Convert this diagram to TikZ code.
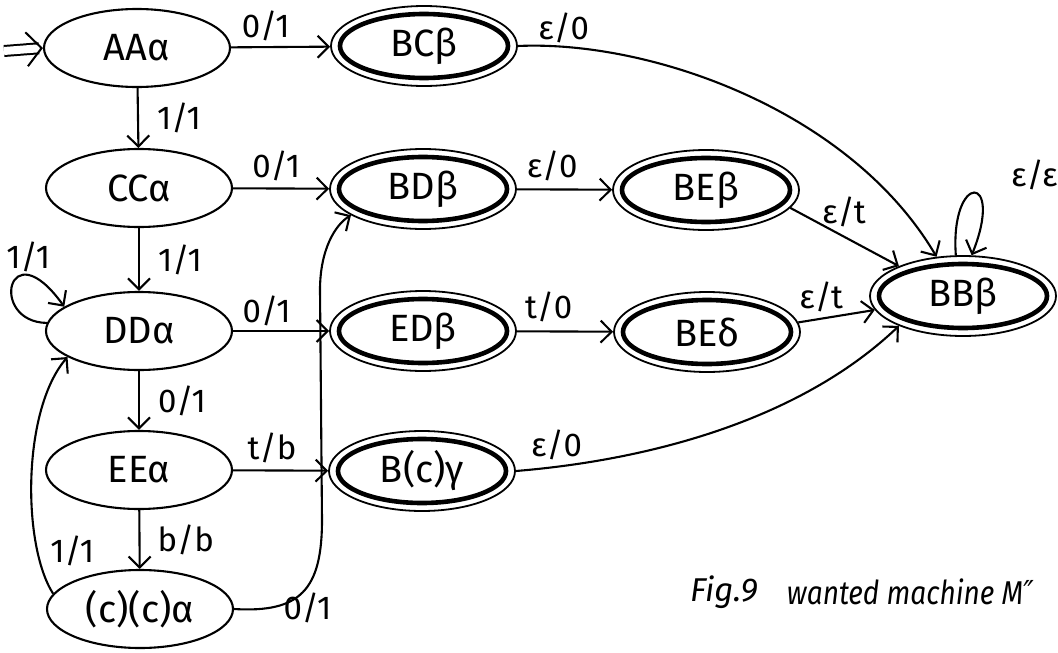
\documentclass[tikz,border=0pt]{standalone}
\usepackage{fontspec}
\setmainfont{Fira Sans}
\newfontfamily\djv{DejaVu Sans}
\usetikzlibrary{arrows.meta,shapes.geometric}
\begin{document}
\begin{tikzpicture}[x=1pt,y=-1pt,
  st/.style={ellipse, draw, line width=2.1pt, inner sep=0pt,
    minimum width=186pt, minimum height=78pt, font=\fontsize{38}{46}\selectfont},
  fin/.style={st, minimum height=80pt, line width=1.8pt,
    path picture={\draw[line width=4.6pt] (path picture bounding box.center)
      ellipse [x radius=84pt, y radius=32pt];}},
  arr/.style={line width=2.1pt, -{Straight Barb[length=11pt,width=22pt]}},
  lab/.style={font=\fontsize{33}{39}\selectfont, inner sep=0pt},
  capt/.style={font=\fontsize{33}{39}\selectfont\itshape, inner sep=0pt}]
\useasboundingbox (0,0) rectangle (1058,653);
% states
\node[st] (AA) at (137,48) {AAα};
\node[st] (CC) at (139,188) {CCα};
\node[st] (DD) at (139,331) {DDα};
\node[st] (EE) at (139,470) {EEα};
\node[st] (cc) at (140,609) {(c)(c)α};
\node[fin] (BC) at (424,46) {BCβ};
\node[fin] (BD) at (423,189) {BDβ};
\node[fin] (BE) at (706,190) {BEβ};
\node[fin] (ED) at (423,331) {EDβ};
\node[fin] (BEd) at (707,332) {BEδ};
\node[fin] (Bcg) at (422,471) {B(c)γ};
\node[fin] (BB) at (963,296) {BBβ};
% initial arrow
\coordinate (init) at (4,51);
\draw[line width=2pt, double, double distance=8pt, shorten >=4pt] (init) -- (AA.west);
\draw[line width=2pt, -{Straight Barb[length=15pt,width=34pt]}, shorten <=36pt] (init) -- (AA.west);
% left column
\draw[arr] (AA) -- node[lab, right=18pt] {1/1} (CC);
\draw[arr] (CC) -- node[lab, right=18pt] {1/1} (DD);
\draw[arr] (DD) -- node[lab, right=18pt] {0/1} (EE);
\draw[arr] (EE) -- node[lab, right=17pt] {b/b} (cc);
\draw[arr] (DD.175) .. controls (-12,322) and (8,228) .. (DD.162)
  node[lab, pos=0.55, above=8pt, xshift=14pt] {1/1};
\draw[arr] (cc.170) .. controls (22,545) and (22,410) .. (DD.200)
  node[lab, pos=0.22, right=12pt] {1/1};
% horizontal transitions
\draw[arr] (AA) -- node[lab, pos=0.35, above=5pt] {0/1} (BC);
\draw[arr] (CC) -- node[lab, pos=0.45, above=7pt] {0/1} (BD);
\draw[arr] (DD) -- node[lab, pos=0.35, above=4pt] {0/1} (ED);
\draw[arr] (EE) -- node[lab, pos=0.41, above=6pt] {t/b} (Bcg);
\draw[arr] (BD) -- node[lab, pos=0.37, above=7pt] {ε/0} (BE);
\draw[arr] (ED) -- node[lab, pos=0.33, above=8pt] {t/0} (BEd);
% (c)(c)alpha to BDbeta
\draw[arr] (cc.east) .. controls (300,613) and (322,590) .. (322,520)
  node[lab, pos=0.2, anchor=west, xshift=14pt] {0/1}
  -- (320,290) .. controls (320,250) and (335,225) .. (BD.200);
% into BBbeta
\draw[arr] (BC.east) .. controls (650,40) and (850,110) .. (BB.124)
  node[lab, pos=0.11, above=3pt] {ε/0};
\draw[arr] (BE.-12) -- node[lab, pos=0.42, above=4pt, xshift=8pt] {ε/t} (BB.155);
\draw[arr] (BEd.6) -- node[lab, pos=0.3, above=6pt] {ε/t} (BB.189);
\draw[arr] (Bcg.east) .. controls (650,460) and (800,420) .. (BB.205)
  node[lab, pos=0.1, above=6pt] {ε/0};
\draw[arr] (BB.100) .. controls (950,172) and (1005,172) .. (BB.78)
  node[lab, pos=0.5, right=36pt, yshift=18pt] {ε/ε};
% caption
\node[capt, anchor=west] (fig) at (690,592) {Fig.9};
\node[capt, anchor=east] (want) at (1034,592) {\scalebox{0.85}[1]{wanted machine M{\djv\itshape ″}}};
\end{tikzpicture}
\end{document}
